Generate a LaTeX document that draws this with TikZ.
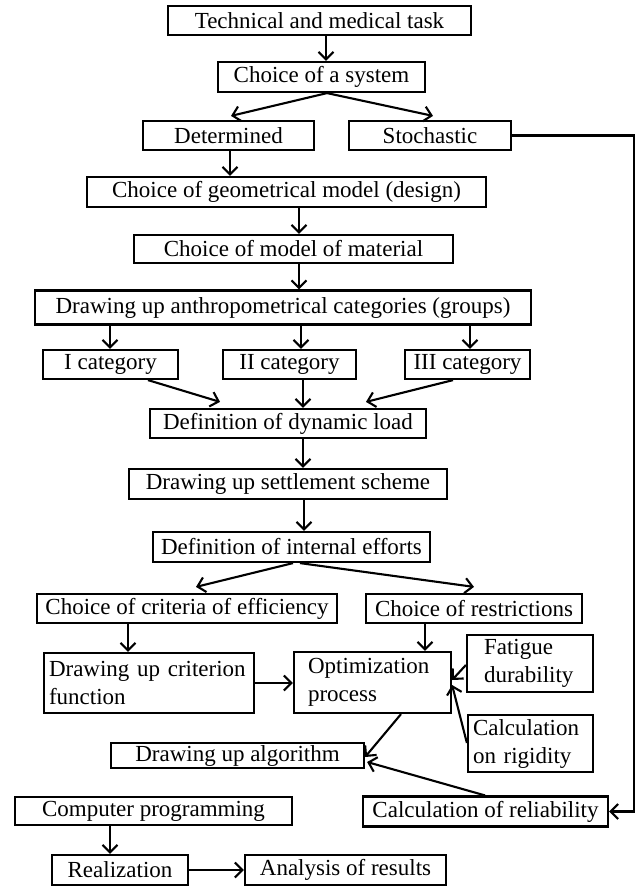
\documentclass[tikz,border=0pt]{standalone}
\usepackage{fontspec}
\setmainfont{Liberation Serif}
\usetikzlibrary{arrows.meta,calc}
\begin{document}
\begin{tikzpicture}[x=1pt,y=-1pt,
  box/.style={draw, line width=2.2pt, inner sep=0pt, font=\fontsize{23}{28}\selectfont},
  arr/.style={line width=2.1pt, -{Straight Barb[length=7.5pt,width=15pt,line width=2.1pt]}}]
\useasboundingbox (0,0) rectangle (637,886);
% boxes
\node[box, minimum width=303pt, minimum height=29pt] (tech) at (319.5,20.5) {Technical and medical task};
\node[box, minimum width=207pt, minimum height=30pt] (sys) at (321.5,77) {Choice of a system};
\node[box, minimum width=171pt, minimum height=29pt] (det) at (228.5,135.5) {Determined};
\node[box, minimum width=162pt, minimum height=29pt] (sto) at (430,135.5) {Stochastic};
\node[box, minimum width=399pt, minimum height=30pt] (geo) at (286.5,192) {Choice of geometrical model (design)};
\node[box, minimum width=319pt, minimum height=28pt] (mat) at (293.5,249) {Choice of model of material};
\node[box, minimum width=496pt, minimum height=34pt] (anth) at (283,307.5) {Drawing up anthropometrical categories (groups)};
\node[box, minimum width=135pt, minimum height=29pt] (c1) at (110.5,364.5) {I category};
\node[box, minimum width=133pt, minimum height=29pt] (c2) at (289.5,364.5) {II category};
\node[box, minimum width=125pt, minimum height=29pt] (c3) at (467.5,364.5) {III category};
\node[box, minimum width=276pt, minimum height=29pt] (dyn) at (288,423.5) {Definition of dynamic load};
\node[box, minimum width=318pt, minimum height=30pt] (set) at (288,484) {Drawing up settlement scheme};
\node[box, minimum width=277pt, minimum height=30pt] (int) at (291.5,547) {Definition of internal efforts};
\node[box, minimum width=300pt, minimum height=29pt] (crit) at (187,608.5) {Choice of criteria of efficiency};
\node[box, minimum width=216pt, minimum height=29pt] (rest) at (474,608.5) {Choice of restrictions};
\node[box, align=left, inner xsep=5pt, text width=200pt, minimum height=60pt] (func) at (149,683) {Drawing up criterion\\function};
\node[box, align=left, inner xsep=14pt, text width=129pt, minimum height=61pt] (opt) at (372.5,682.5) {Optimization\\process};
\node[box, align=left, inner xsep=17pt, text width=92pt, minimum height=57pt] (fat) at (530,663.5) {Fatigue\\durability};
\node[box, align=left, inner xsep=5pt, text width=115pt, minimum height=57pt] (rig) at (530.5,743.5) {Calculation\\on rigidity};
\node[box, minimum width=253pt, minimum height=25pt] (alg) at (237.5,755.5) {Drawing up algorithm};
\node[box, minimum width=277pt, minimum height=28pt] (comp) at (153.5,811) {Computer programming};
\node[box, minimum width=245pt, minimum height=30pt] (rel) at (485.5,811.5) {Calculation of reliability};
\node[box, minimum width=136pt, minimum height=30pt] (real) at (120,870) {Realization};
\node[box, minimum width=201pt, minimum height=30pt] (ana) at (345.5,870) {Analysis of results};
% connectors
\draw[arr] (326,0 |- tech.south) -- (326,0 |- sys.north);
\draw[arr] (327,0 |- sys.south) -- ($(231,0 |- det.north)+(0,-4)$);
\draw[arr] (327,0 |- sys.south) -- ($(433,0 |- sto.north)+(0,-4)$);
\draw[arr] (sto.east) -- (634,0 |- sto.east) -- (634,0 |- rel.east) -- (rel.east);
\draw[arr] (230,0 |- det.south) -- (230,0 |- geo.north);
\draw[arr] (299,0 |- geo.south) -- (299,0 |- mat.north);
\draw[arr] (299,0 |- mat.south) -- (299,0 |- anth.north);
\draw[arr] (110,0 |- anth.south) -- (110,0 |- c1.north);
\draw[arr] (301,0 |- anth.south) -- (301,0 |- c2.north);
\draw[arr] (470,0 |- anth.south) -- (470,0 |- c3.north);
\draw[arr] (148,0 |- c1.south) -- ($(220,0 |- dyn.north)+(0,-6)$);
\draw[arr] (303,0 |- c2.south) -- (303,0 |- dyn.north);
\draw[arr] (453,0 |- c3.south) -- ($(366,0 |- dyn.north)+(0,-6)$);
\draw[arr] (303,0 |- dyn.south) -- (303,0 |- set.north);
\draw[arr] (304,0 |- set.south) -- (304,0 |- int.north);
\draw[arr] (293,0 |- int.south) -- ($(196,0 |- crit.north)+(0,-6)$);
\draw[arr] (300,0 |- int.south) -- ($(474,0 |- rest.north)+(0,-6)$);
\draw[arr] (128,0 |- crit.south) -- (128,0 |- func.north);
\draw[arr] (425,0 |- rest.south) -- (425,0 |- opt.north);
\draw[arr] (func.east |- 0,683) -- (opt.west |- 0,683);
\draw[arr] (fat.west |- 0,665) -- (opt.east |- 0,680);
\draw[arr] (rig.west |- 0,743) -- (opt.east |- 0,685);
\draw[arr] (401,0 |- opt.south) -- (alg.east |- 0,757);
\draw[arr] (485,0 |- rel.north) -- ($(alg.east |- 0,762)+(2,0)$);
\draw[arr] (110,0 |- comp.south) -- (110,0 |- real.north);
\draw[arr] (real.east |- 0,870) -- (ana.west |- 0,870);
\end{tikzpicture}
\end{document}
